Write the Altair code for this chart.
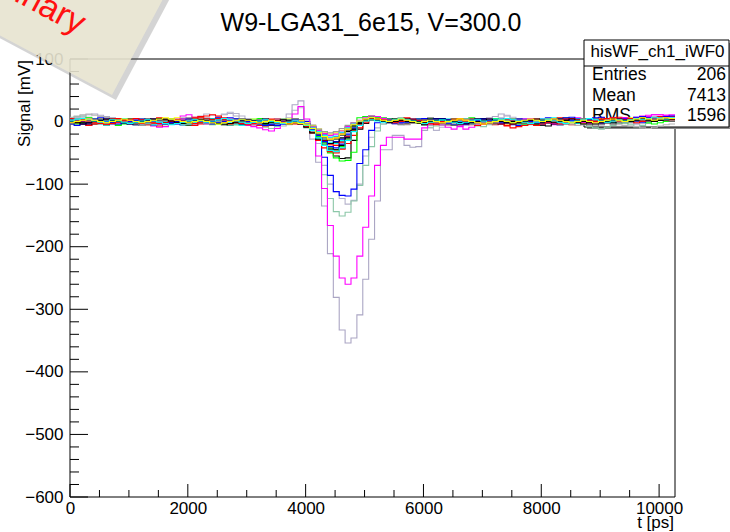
import altair as alt
import pandas as pd

# ---------------- texts ----------------
TITLE = "W9-LGA31_6e15, V=300.0"
X_TITLE = "t [ps]"
Y_TITLE = "Signal [mV]"
STAMP_TEXT = "Preliminary"
STATS_NAME = "hisWF_ch1_iWF0"
STATS_LABELS = ["Entries", "Mean", "RMS"]
STATS_VALUES = ["206", "7413", "1596"]

# ---------------- axes ----------------
X_DOMAIN = [0, 10270]
Y_DOMAIN = [-600, 100]
X_MAJOR = [0, 2000, 4000, 6000, 8000, 10000]
X_MINOR = [500, 1000, 1500, 2500, 3000, 3500, 4500, 5000, 5500,
           6500, 7000, 7500, 8500, 9000, 9500]
Y_MAJOR = [-600, -500, -400, -300, -200, -100, 0, 100]
Y_MINOR = [v for v in range(-580, 100, 20) if v % 100 != 0]

# histogram binning of every waveform (ps)
BIN_START = -30
BIN_WIDTH = 100

# ---------------- waveforms (mV per 100 ps bin) ----------------
wf01 = [5, 7, 9, 11, 12, 10, 8, 6, 3, 1,
        -1, 2, 4, 1, -2, 0, 3, 5, 2, -1,
        -3, 0, 4, 6, 3, 7, 11, 13, 9, 5,
        2, -1, -4, -7, -5, -2, 4, 12, 27, 33,
        0, -28, -65, -135, -211, -281, -333, -354, -346, -309,
        -252, -188, -127, -45, -45, -22, -22, -38, -41, -40,
        -14, -6, -3, 1, 4, 2, -2, -5, -3, 1,
        4, 6, 8, 12, 9, 4, -1, -4, -2, 2,
        3, -1, -4, -6, -3, 0, 3, 4, 0, -3,
        -5, -2, 2, 5, 3, -1, -3, 2, 5, 7,
        8, 9, 7]
wf02 = [4, 6, 7, 5, 2, 0, 3, 6, 4, 1,
        -2, -4, -1, 3, 2, -1, -3, 0, 4, 6,
        5, 7, 9, 12, 10, 8, 12, 15, 13, 9,
        5, 2, -1, -4, -6, -3, 1, 6, 18, 22,
        2, -12, -35, -70, -100, -112, -123, -132, -126, -100,
        -55, -25, -10, -4, 1, 4, 6, 4, 1, -2,
        -5, -10, -14, -9, -4, 0, 3, 5, 3, -1,
        -3, -1, 2, 6, 10, 7, 2, -2, -5, -3,
        0, 3, 5, 2, -2, -4, -1, 3, 1, -2,
        -4, -1, 3, 5, 2, -2, -5, -3, 0, 3,
        5, 4, 6]
wf03 = [6, 8, 9, 7, 4, 2, 0, -2, 1, 4,
        2, -2, -5, -3, 0, 3, 1, -2, -4, -1,
        2, 4, 6, 3, 0, -3, -5, -6, -3, 0,
        2, -1, -5, -9, -11, -8, -3, 1, 3, -2,
        -10, -18, -30, -85, -123, -144, -151, -145, -127, -102,
        -70, -40, -15, -4, 2, 5, 6, 3, 0, -3,
        -6, -9, -7, -4, -1, 2, 3, 0, -4, -7,
        -8, -5, -2, 1, 3, 0, -4, -6, -3, 1,
        3, 1, -3, -5, -2, 1, -2, -5, -8, -10,
        -12, -9, -6, -3, -2, -5, -8, -6, -3, 0,
        2, 3, 4]
wf04 = [1, -2, -4, -6, -3, 0, 3, 4, 2, -1,
        -3, -5, -6, -3, -1, 2, 4, 1, -2, -5,
        -3, -1, 2, 4, 5, 6, 3, 1, -2, 0,
        3, 1, -2, -4, -6, -3, 0, 3, 5, 3,
        0, -6, -20, -57, -86, -112, -118, -119, -108, -67,
        -45, -14, -2, 3, 5, 3, 1, -1, -3, -1,
        2, 4, 5, 3, 0, -2, -4, -5, -2, 1,
        3, 4, 2, -1, -3, -5, -6, -3, 0, 2,
        4, 6, 3, 1, -1, 2, 4, 5, 3, 0,
        -2, 1, 3, 5, 6, 4, 2, 0, 3, 5,
        6, 4, 3]
wf05 = [3, 1, -2, -4, -1, 2, 4, 2, -1, -3,
        -1, 3, 1, -4, -7, -9, -8, -3, 4, 9,
        11, 6, 2, -1, -3, 1, 4, 3, 0, -4,
        -6, -8, -10, -13, -15, -11, -4, 3, 12, 24,
        4, -10, -55, -107, -166, -215, -250, -260, -250, -215,
        -169, -119, -70, -38, -25, -25, -25, -28, -28, -28,
        -10, -4, 1, 4, 2, -3, -7, -12, -9, -3,
        1, 4, 5, 2, -2, -4, -1, 3, 5, 2,
        0, -3, -5, -2, 2, 5, 6, 3, 0, -2,
        1, 4, 6, 3, 0, 2, 5, 8, 10, 11,
        11, 10, 9]
wf06 = [2, 4, 1, -2, -4, -1, 2, 4, 2, -1,
        -3, -5, -2, 1, 3, 5, 2, -1, -3, -5,
        -6, -3, -1, 1, 3, 0, -3, -5, -2, 1,
        3, 1, -2, -5, -6, -4, -1, 2, 3, -2,
        -5, -12, -25, -38, -48, -55, -59, -58, -30, -12,
        -3, 2, 4, 2, 0, -3, -1, 2, 0, -3,
        -5, -2, 1, 3, 0, -3, -5, -2, 1, 3,
        5, 2, -1, -3, 0, 3, 5, 2, -1, -4,
        -6, -7, -4, -2, 1, 3, 0, -3, -5, -2,
        0, 3, 5, 2, 0, 2, 4, 6, 4, 2,
        4, 5, 3]
wf07 = [-4, -2, 1, 3, 0, -3, -5, -2, 1, 3,
        5, 2, -1, -3, -5, -7, -4, -1, 2, 4,
        5, 7, 8, 9, 11, 9, 6, 3, 1, -1,
        -3, -5, -6, -7, -5, -3, -1, 1, 3, 1,
        -4, -12, -22, -33, -40, -45, -43, -35, -22, -10,
        -2, 3, 5, 4, 2, 0, -2, -4, -1, 2,
        4, 2, -1, -3, -5, -2, 1, 3, 5, 2,
        -1, -3, -5, -3, -7, -10, -8, -4, -1, 1,
        3, 5, 2, -1, -3, -5, -2, 1, 3, 5,
        6, 4, 2, 0, 3, 5, 6, 7, 5, 3,
        5, 7, 8]
wf08 = [1, 3, 5, 6, 4, 2, 0, -3, -1, 2,
        4, 2, -1, -3, -1, 2, 4, 2, -1, -4,
        -5, -3, 0, 2, 4, 2, -1, -3, -5, -2,
        1, 3, 5, 2, 0, -2, 1, 3, 4, 0,
        -3, -10, -22, -38, -50, -58, -63, -62, -49, 6,
        8, 9, 8, 6, 4, 2, 1, -1, -3, -1,
        2, 4, 2, -1, -3, 0, 2, 4, 6, 3,
        1, -1, -3, -1, 2, 4, 2, -1, -3, -5,
        -3, 0, 2, 4, 6, 4, 2, -1, -3, 0,
        2, 4, 2, 0, 3, 5, 6, 4, 2, 0,
        2, 4, 5]
wf09 = [-2, 0, 2, 1, -2, -4, -6, -4, -1, 1,
        3, 4, 2, -1, -3, -1, 2, 0, -3, -5,
        -3, 0, 2, 4, 2, -1, -3, -5, -2, 1,
        3, 4, 2, 0, -2, -4, -2, 0, 2, -1,
        -5, -12, -20, -28, -33, -35, -30, -22, -12, -5,
        0, 3, 4, 3, 1, -1, -3, -1, 2, 4,
        2, 0, -2, -4, -2, 1, 3, 4, 2, -1,
        -3, -1, 2, 4, 2, 0, -3, -5, -2, 1,
        3, 5, 6, 4, 2, -1, -3, -1, 2, 4,
        2, 0, -2, 0, 2, 4, 2, 0, 3, 5,
        6, 4, 2]
wf10 = [2, 0, -2, 0, 3, 5, 3, 0, -2, 0,
        2, 0, -3, -5, -2, 1, 3, 5, 6, 4,
        2, -1, -3, 0, 2, 0, -2, -4, -2, 1,
        3, 4, 2, 0, -2, 0, 2, 4, 5, 2,
        -2, -6, -12, -17, -20, -18, -14, -9, -5, -2,
        1, 3, 4, 2, 0, -2, 0, 2, 4, 2,
        0, -2, -4, -2, 1, 3, 5, 3, 0, -2,
        0, 2, 0, -2, -4, -2, 1, 3, 4, 2,
        0, -2, 0, 2, 4, 2, 0, -3, -1, 2,
        4, 2, 0, 2, 4, 6, 4, 2, 4, 6,
        4, 2, 4]
wf11 = [5, 3, 1, -1, 2, 4, 6, 3, 1, -2,
        -3, -1, 2, 0, -3, -5, -3, 0, 3, 5,
        6, 4, 2, -1, -3, -1, 2, 4, 2, -1,
        -3, -5, -3, 0, 2, 0, -2, -4, -1, -3,
        -8, -16, -26, -34, -40, -38, -32, -22, -12, -4,
        2, 4, 3, 1, -1, -3, -4, -2, 1, 3,
        4, 6, 3, 1, -1, -3, -1, 2, 4, 2,
        0, -2, -4, -2, 1, 3, 5, 2, 0, -3,
        -5, -3, 0, 2, 4, 2, 0, -2, -5, -7,
        -5, -3, 0, 2, 0, -2, 0, 2, 4, 6,
        4, 2, 4]
wf12 = [-4, -2, 0, 2, 4, 2, 0, -2, -5, -3,
        0, 2, 4, 2, 0, -3, -5, -3, 0, 2,
        4, 2, -1, -3, -5, -2, 0, 3, 5, 2,
        0, -2, -4, -2, 0, 2, 4, 2, 0, -2,
        -5, -10, -18, -25, -30, -28, -22, -15, -8, -2,
        3, 6, 7, 6, 4, 3, 1, -1, -3, -1,
        2, 4, 2, 0, -2, -4, -2, 0, 2, 4,
        2, 0, -2, 0, 2, 4, 2, 0, -2, 0,
        2, 4, 2, 0, -2, 0, 2, 4, 2, 0,
        -2, 0, 2, 4, 2, 0, 2, 4, 5, 4,
        5, 6, 5]
wf13 = [2, 4, 5, 3, 1, -1, -3, 0, 2, 4,
        2, 0, -3, -5, -6, -4, -2, 0, 2, 0,
        -2, -4, -2, 0, 2, 4, 2, 0, -2, -4,
        -2, 0, 2, 4, 2, 0, -2, 0, 2, 0,
        -3, -8, -15, -20, -25, -24, -18, -10, -4, 0,
        2, 3, 2, 0, -2, -4, -2, 0, 2, 4,
        2, 0, -2, 0, 2, 4, 2, 0, -2, -4,
        -2, 0, 2, 4, 5, 3, 1, -1, -3, 0,
        2, 0, -3, -5, -3, 0, 2, 4, 2, 0,
        2, 4, 2, 0, -2, 0, 2, 4, 5, 3,
        2, 4, 5]
wf14 = [7, 9, 11, 12, 10, 8, 6, 5, 4, 2,
        1, -1, -3, -1, 2, 4, 2, 0, -2, -4,
        -5, -3, -1, 1, 3, 1, -2, -4, -5, -3,
        -1, 1, 3, 1, -2, -4, -7, -5, -2, -4,
        -8, -15, -22, -28, -30, -27, -20, -12, -5, 0,
        4, 6, 5, 3, 0, -2, -4, -2, 0, 2,
        0, -2, -4, -6, -5, -3, 0, 2, 0, -2,
        -4, -2, 0, 2, 4, 2, 0, -2, -4, -2,
        0, 2, 0, -2, -4, -5, -6, -5, -3, -1,
        0, -2, -4, -5, -6, -7, -8, -10, -11, -9,
        -7, -5, -4]
wf15 = [0, -2, -4, -6, -4, -1, 1, 3, 4, 2,
        0, -2, 0, 2, 4, 6, 4, 2, 0, -2,
        -4, -6, -4, -1, 1, 3, 5, 2, 0, -2,
        -4, -2, 0, 2, 4, 2, 0, -2, -4, -2,
        -4, -9, -16, -22, -28, -26, -20, -12, -6, -1,
        3, 5, 3, 1, -1, 2, 4, 6, 3, 1,
        -1, -3, -5, -3, 0, 2, 0, -3, -5, -6,
        -4, -2, 0, 2, 0, -2, -4, -6, -4, -2,
        0, 2, 4, 6, 4, 2, 0, -2, 0, 2,
        4, 5, 6, 7, 6, 4, 3, 5, 6, 7,
        8, 7, 8]
wf16 = [-2, -4, -2, 0, 2, 0, -2, -4, -6, -4,
        -2, 0, 2, 0, -2, 0, 2, 4, 2, 0,
        2, 4, 2, 0, -2, -4, -2, 0, 2, 4,
        2, 0, -2, -4, -2, 0, 2, 0, -2, -3,
        -6, -14, -24, -34, -42, -45, -40, -28, -14, -4,
        4, 8, 7, 4, 2, 0, -2, 0, 2, 4,
        2, 0, -2, 0, 2, 4, 2, 0, -2, 0,
        2, 4, 5, 3, 1, -1, -3, -4, -2, 0,
        2, 0, -2, 0, 2, 4, 2, 0, -2, 0,
        2, 4, 2, 0, -2, 0, 2, 0, -2, -4,
        -2, 0, 2]
wf17 = [4, 2, 0, 2, 4, 6, 4, 2, 0, -2,
        -4, -2, 0, 2, 4, 2, 0, -2, -4, -2,
        0, 2, 0, -2, 0, 2, 4, 6, 4, 2,
        0, -2, -4, -6, -4, -2, 0, 2, 4, 0,
        -3, -8, -16, -24, -30, -32, -28, -20, -10, -3,
        2, 4, 5, 3, 1, -1, -3, -1, 2, 4,
        5, 3, 1, -1, -3, -5, -3, 0, 2, 4,
        2, 0, -2, -4, -2, 0, 2, 4, 2, 0,
        -2, 0, 2, 4, 6, 7, 5, 3, 1, -1,
        -3, -1, 2, 4, 5, 3, 1, -1, 2, 4,
        5, 3, 5]
wf18 = [-2, 0, 2, 4, 2, 0, -2, -4, -2, 0,
        2, 4, 2, 0, -2, -4, -2, 0, 2, 4,
        2, 0, -2, -4, -2, 0, 2, 4, 2, 0,
        -2, -4, -2, 0, 2, 4, 2, 0, -2, -3,
        -4, -8, -14, -19, -22, -20, -15, -8, -2, 2,
        6, 9, 8, 5, 3, 0, -2, -3, -2, 0,
        2, 0, -2, -5, -9, -12, -8, -4, -1, 1,
        2, 4, 2, 0, -2, 0, 2, 4, 5, 3,
        1, -1, -3, -1, 1, 3, 1, -1, -3, -1,
        1, 4, 3, 5, 6, 5, 7, 9, 8, 11,
        11, 10, 11]
wf19 = [3, 5, 3, 1, -1, -3, -1, 2, 4, 5,
        3, 1, -1, -3, -5, -3, 0, 2, 0, -2,
        -4, -2, 0, 2, 4, 2, 0, -2, -4, -6,
        -4, -2, 0, 2, 0, -2, -4, -2, 0, -2,
        -5, -10, -16, -22, -25, -23, -17, -10, -4, 0,
        3, 5, 3, 1, -1, -3, -1, 2, 4, 2,
        0, -2, 0, 2, 4, 2, 0, -2, -4, -2,
        0, 2, 4, 2, 0, -2, -4, -2, 0, 2,
        4, 2, 0, -2, 0, 2, 4, 5, 3, 1,
        -1, 1, 3, 1, -1, 1, 3, 1, 3, 5,
        6, 4, 6]
wf20 = [0, 2, 4, 2, 0, -2, -4, -2, 0, 2,
        4, 2, 0, -2, 0, 2, 4, 2, 0, -2,
        0, 2, 4, 5, 3, 1, -1, -3, -1, 1,
        3, 1, -1, -3, -5, -3, -1, 1, 0, -2,
        -6, -12, -20, -26, -30, -28, -22, -14, -6, -1,
        3, 5, 3, 1, -1, -3, -5, -3, -1, 1,
        3, 1, -1, -3, -5, -6, -4, -2, 0, 2,
        0, -2, 0, 2, 4, 2, 0, -2, -4, -2,
        0, 2, 0, -2, -4, -2, 0, 2, 4, 2,
        0, -2, -4, -2, 0, 2, 4, 2, 0, 2,
        3, 2, 0]
wf21 = [2, 0, -2, -4, -2, 0, 2, 4, 2, 0,
        -2, 0, 2, 4, 2, 0, -2, -4, -2, 0,
        2, 0, -2, 0, 2, 4, 2, 0, -2, -4,
        -2, 0, 2, 4, 2, 0, -2, -4, -2, -3,
        -7, -14, -22, -30, -35, -33, -26, -16, -7, -2,
        2, 4, 2, 0, 2, 4, 2, 0, -2, 0,
        2, 4, 5, 3, 1, -1, -3, -1, 2, 4,
        2, 0, -2, -4, -2, 0, 2, 0, -2, -4,
        -2, 0, 2, 4, 2, 0, -2, -4, -2, 0,
        2, 0, -2, 0, 2, 4, 2, 4, 5, 3,
        2, 4, 2]
wf22 = [5, 3, 1, -1, -3, -1, 2, 4, 5, 3,
        1, -1, -3, -5, -3, -1, 2, 0, -2, 0,
        2, 4, 6, 4, 2, 0, -2, -4, -2, 0,
        2, 0, -2, 0, 2, 4, 2, 0, -2, -3,
        -6, -13, -22, -31, -37, -38, -33, -24, -13, -5,
        1, 4, 5, 3, 1, -1, 2, 4, 2, 0,
        -2, -4, -2, 0, 2, 4, 2, 0, -2, 0,
        2, 0, -2, -4, -6, -4, -2, 0, 2, 4,
        2, 0, -2, -4, -2, 0, 2, 4, 2, 0,
        -2, 0, 2, 4, 2, 0, -2, 0, 2, 4,
        5, 3, 2]
wf23 = [-4, -6, -4, -2, 0, 2, 0, -2, -4, -2,
        0, 2, 4, 2, 0, -2, -4, -2, 0, 2,
        4, 2, 0, -2, -4, -2, 0, 2, 4, 5,
        3, 1, -1, -3, -5, -6, -4, -2, 0, -2,
        -5, -12, -22, -32, -40, -42, -36, -25, -13, -4,
        2, 5, 3, 1, -1, -3, -1, 2, 4, 2,
        0, 2, 4, 5, 3, 1, -1, -3, -1, 2,
        4, 2, 0, -2, 0, 2, 4, 2, 0, -2,
        -4, -2, 0, 2, 4, 2, 0, 2, 4, 6,
        7, 5, 3, 1, 3, 5, 7, 8, 6, 4,
        6, 8, 9]
wf24 = [2, 4, 2, 0, -2, -4, -2, 0, 2, 0,
        -2, -4, -6, -4, -2, 0, 2, 4, 2, 0,
        2, 0, -2, -4, -2, 0, 2, 4, 2, 0,
        -2, -4, -2, 0, 2, 4, 2, 0, 2, 0,
        -3, -7, -12, -16, -18, -16, -11, -6, -2, 1,
        4, 6, 4, 2, 0, -2, -4, -5, -3, -1,
        2, 0, -2, -4, -2, 0, 2, 4, 2, 0,
        -2, -4, -2, 0, 2, 4, 2, 0, -2, 0,
        2, 4, 2, 0, -2, 0, 2, 0, -2, -4,
        -2, 0, 2, 0, -2, 0, 2, 4, 2, 4,
        5, 3, 2]
wf25 = [-1, 1, 3, 1, -1, -3, -5, -3, -1, 1,
        3, 5, 3, 1, -1, -3, -1, 1, 3, 1,
        -1, -3, -1, 1, 3, 5, 3, 1, -1, -3,
        -5, -3, -1, 1, 3, 1, -1, -3, -1, -4,
        -8, -18, -30, -42, -48, -50, -44, -30, -15, -5,
        2, 5, 4, 2, 0, -2, 0, 2, 4, 2,
        0, -2, -4, -2, 0, 2, 4, 2, 0, -2,
        -4, -2, 0, 2, 4, 2, 0, -2, -4, -6,
        -4, -2, 0, 2, 4, 5, 3, 1, -1, 1,
        3, 5, 3, 1, 3, 5, 4, 2, 4, 6,
        7, 5, 4]
wf26 = [0, -2, -4, -2, 0, 2, 4, 2, 0, -2,
        -4, -2, 0, 2, 4, 5, 3, 1, -1, -3,
        -1, 1, 3, 1, -1, -3, -5, -3, -1, 1,
        3, 1, -1, -3, -1, 1, 3, 1, -1, -4,
        -9, -18, -28, -38, -44, -45, -38, -26, -12, -3,
        2, 4, 2, 0, -2, 0, 2, 4, 2, 0,
        -2, 0, 2, 4, 2, 0, -2, -4, -2, 0,
        2, 4, 2, 0, -2, -4, -2, 0, 2, 4,
        2, 0, -2, 0, 2, 4, 2, 0, -2, -4,
        -2, 0, 2, 4, 2, 0, 2, 4, 2, 0,
        2, 3, 4]
wf27 = [1, 3, 5, 3, 1, -1, 1, 3, 1, -1,
        -3, -1, 1, 3, 1, -1, -3, -5, -3, -1,
        1, 3, 1, -1, 1, 3, 5, 3, 1, -1,
        -3, -1, 1, 3, 1, -1, -3, -1, 1, -2,
        -6, -14, -26, -38, -46, -48, -42, -30, -16, -6,
        1, 3, 1, -1, 1, 3, 5, 3, 1, -1,
        -3, -1, 1, 3, 1, -1, -3, -1, 1, 3,
        1, -1, 1, 3, 5, 3, 1, -1, -3, -1,
        1, 3, 1, -1, -3, -1, 1, 3, 5, 3,
        1, -1, 1, 3, 1, 3, 5, 3, 5, 7,
        6, 4, 5]
wf28 = [-2, 0, 2, 4, 2, 0, -2, 0, 2, 4,
        2, 0, -2, 0, 2, 4, 6, 4, 2, 0,
        -2, 0, 2, 0, -2, -4, -2, 0, 2, 4,
        2, 0, -2, 0, 2, 0, -2, -4, -2, -3,
        -5, -11, -18, -24, -28, -26, -20, -12, -5, 1,
        4, 6, 4, 2, 0, 2, 4, 2, 0, -2,
        0, 2, 0, -2, 0, 2, 4, 2, 0, -2,
        -4, -2, 0, 2, 0, -2, 0, 2, 4, 2,
        0, 2, 4, 2, 0, -2, 0, 2, 0, -2,
        0, 2, 4, 2, 0, 2, 4, 6, 4, 2,
        4, 6, 5]

WAVES = [wf01, wf02, wf03, wf04, wf05, wf06, wf07, wf08, wf09, wf10, wf11, wf12, wf13, wf14,
         wf15, wf16, wf17, wf18, wf19, wf20, wf21, wf22, wf23, wf24, wf25, wf26, wf27, wf28]
WAVE_NAMES = ["w%02d" % (i + 1) for i in range(len(WAVES))]
WAVE_COLORS = ["#aba6c4", "#b6b3cc", "#8cc7a8", "#0000ff", "#ff00ff", "#000000",
               "#ff0000", "#00ff00", "#00ffff", "#ffff00", "#808080", "#59d454",
               "#5954d9", "#b3b3b3", "#ff0000", "#00ff00", "#0000ff", "#ff00ff",
               "#00ffff", "#666666", "#000000", "#ff0000", "#0000ff", "#999999",
               "#ff0000", "#000000", "#00ffff", "#ffff00"]

rows = []
for name, vals in zip(WAVE_NAMES, WAVES):
    for k, v in enumerate(vals):
        rows.append({"series": name, "t": BIN_START + k * BIN_WIDTH, "v": v})
    rows.append({"series": name, "t": BIN_START + len(vals) * BIN_WIDTH, "v": vals[-1]})
wave_df = pd.DataFrame(rows)

# ---------------- layout ----------------
FONT = "Liberation Sans"
W, H = 605, 438
PAD = {"left": 70, "top": 59, "right": 55, "bottom": 35}


def px(x):  # page x -> plot coordinate
    return x - PAD["left"]


def py(y):  # page y -> plot coordinate
    return y - PAD["top"]


x_scale = alt.Scale(domain=X_DOMAIN, nice=False, zero=False)
y_scale = alt.Scale(domain=Y_DOMAIN, nice=False, zero=False)
x_axis = alt.Axis(values=X_MAJOR, format="d", title=None, ticks=False, tickSize=0,
                  domain=False, grid=False, labelFlush=False, labelPadding=3,
                  labelFont=FONT, labelFontSize=17, labelColor="black", labelOverlap=False)
y_axis = alt.Axis(values=Y_MAJOR, format="d", title=None, ticks=False, tickSize=0,
                  domain=False, grid=False, labelFlush=False, labelPadding=7,
                  labelFont=FONT, labelFontSize=17, labelColor="black", labelOverlap=False)


def XQ(f):
    return alt.X(f, scale=x_scale, axis=x_axis)


def YQ(f):
    return alt.Y(f, scale=y_scale, axis=y_axis)


one = pd.DataFrame({"s": [""]})


def text_layer(text, x, y, **kw):
    return alt.Chart(pd.DataFrame({"s": [text]})).mark_text(font=FONT, **kw).encode(
        text="s:N", x=alt.value(x), y=alt.value(y))


layers = []

# frame
layers.append(alt.Chart(one).mark_rect(filled=False, stroke="black", strokeWidth=1).encode(
    x=alt.value(0), x2=alt.value(W), y=alt.value(0), y2=alt.value(H)))

# stats box (under the waveforms)
layers.append(alt.Chart(one).mark_rect(color="#8c8c8c").encode(
    x=alt.value(px(587)), x2=alt.value(px(733)), y=alt.value(py(43)), y2=alt.value(py(129))))
layers.append(alt.Chart(one).mark_rect(fill="white", stroke="black", strokeWidth=1).encode(
    x=alt.value(px(584)), x2=alt.value(px(729)), y=alt.value(py(40)), y2=alt.value(py(127))))
layers.append(alt.Chart(one).mark_rule(color="black", strokeWidth=1).encode(
    x=alt.value(px(584)), x2=alt.value(px(729)), y=alt.value(py(66))))
layers.append(text_layer(STATS_NAME, px(657.5), py(56.5), fontSize=17, align="center",
                         baseline="alphabetic", color="black"))
for i, (lab, val) in enumerate(zip(STATS_LABELS, STATS_VALUES)):
    base = py(80 + 20.5 * i)
    layers.append(text_layer(lab, px(592), base, fontSize=17.5, align="left",
                             baseline="alphabetic", color="black"))
    layers.append(text_layer(val, px(726), base, fontSize=17.5, align="right",
                             baseline="alphabetic", color="black"))

# inward ticks
layers.append(alt.Chart(pd.DataFrame({"v": Y_MAJOR})).mark_rule(color="black", strokeWidth=1).encode(
    y=YQ("v:Q"), x=alt.value(0), x2=alt.value(18)))
layers.append(alt.Chart(pd.DataFrame({"v": Y_MINOR})).mark_rule(color="black", strokeWidth=1).encode(
    y=YQ("v:Q"), x=alt.value(0), x2=alt.value(9)))
layers.append(alt.Chart(pd.DataFrame({"v": X_MAJOR})).mark_rule(color="black", strokeWidth=1).encode(
    x=XQ("v:Q"), y=alt.value(H), y2=alt.value(H - 13)))
layers.append(alt.Chart(pd.DataFrame({"v": X_MINOR})).mark_rule(color="black", strokeWidth=1).encode(
    x=XQ("v:Q"), y=alt.value(H), y2=alt.value(H - 7)))

# waveforms
layers.append(alt.Chart(wave_df).mark_line(interpolate="step-after", strokeWidth=1.1, clip=True).encode(
    x=XQ("t:Q"), y=YQ("v:Q"),
    color=alt.Color("series:N", scale=alt.Scale(domain=WAVE_NAMES, range=WAVE_COLORS), legend=None)))

# titles
layers.append(text_layer(TITLE, px(371), py(31), fontSize=25, align="center",
                         baseline="alphabetic", color="black"))
layers.append(text_layer(X_TITLE, px(674), py(528), fontSize=17, align="right",
                         baseline="alphabetic", color="black"))
layers.append(text_layer(Y_TITLE, px(30), py(60), fontSize=17, align="right",
                         baseline="alphabetic", angle=270, color="black"))

# "Preliminary" stamp
STAMP_PATH = "M-1,-0.4286L1,-0.4286L1,0.4286L-1,0.4286Z"
layers.append(alt.Chart(one).mark_point(shape=STAMP_PATH, size=78400, angle=28, filled=True,
                                        color="#555555", opacity=0.25, strokeWidth=0).encode(
    x=alt.value(px(20.5)), y=alt.value(py(-18.7))))
layers.append(alt.Chart(one).mark_point(shape=STAMP_PATH, size=78400, angle=28, filled=True,
                                        color="#ece8d4", opacity=0.88, strokeWidth=0).encode(
    x=alt.value(px(16.5)), y=alt.value(py(-23.7))))
layers.append(text_layer(STAMP_TEXT, px(3), py(-5), fontSize=34, align="center",
                         baseline="alphabetic", angle=28, color="#ff1010"))

chart = alt.layer(*layers).properties(
    width=W, height=H,
    autosize=alt.AutoSizeParams(type="none"),
    padding=PAD,
    background="white",
).configure_view(stroke=None)

chart.save("out.html", embed_options={"renderer": "svg", "actions": False})
